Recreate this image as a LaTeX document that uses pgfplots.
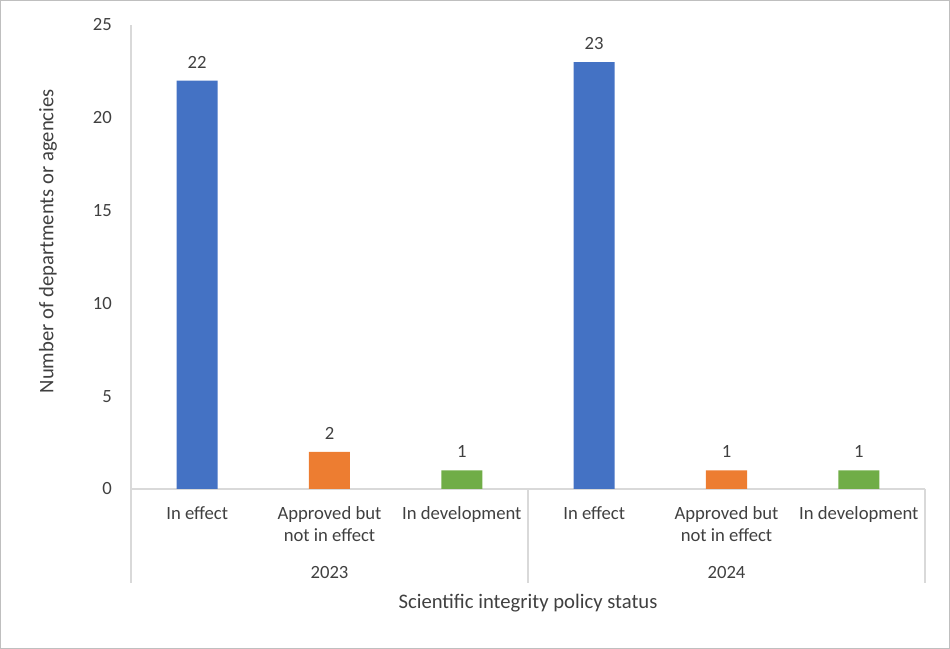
\documentclass[border=0pt]{standalone}
\usepackage{pgfplots}
\pgfplotsset{compat=1.18}
\usepackage{fontspec}
\setmainfont{Carlito}
\definecolor{cblue}{HTML}{4472C4}
\definecolor{corange}{HTML}{ED7D31}
\definecolor{cgreen}{HTML}{70AD47}
\definecolor{ctext}{HTML}{404040}
\definecolor{cline}{HTML}{D9D9D9}
\definecolor{cframe}{HTML}{BFBFBF}
\begin{document}
\fontsize{14}{16.5}\selectfont
\begin{tikzpicture}[x=0.75pt,y=0.75pt]
\useasboundingbox (-131,-160) rectangle (819,489);
\draw[cframe, line width=0.9pt] (-130.4,-159.4) rectangle (818.4,488.4);
\begin{axis}[
  at={(0,0)}, anchor=south west,
  scale only axis,
  width=595.5pt, height=348pt,
  xmin=-0.5, xmax=5.5,
  ymin=0, ymax=25,
  ytick={0,5,...,25},
  xtick={0,...,5},
  xticklabels={In effect,{Approved but\\not in effect},In development,In effect,{Approved but\\not in effect},In development},
  axis x line*=bottom,
  axis y line*=left,
  axis line style={cline, line width=0.9pt},
  major tick length=0pt,
  tick style={draw=none},
  ticklabel style={text=ctext, font=\fontsize{14}{16.5}\selectfont},
  xticklabel style={align=center, anchor=north, yshift=-8.5pt},
  yticklabel style={anchor=east, xshift=-9.5pt},
  /pgf/number format/assume math mode=true,
  ybar, bar width=30.75pt,
  every axis plot/.append style={draw=none, bar shift=0pt},
  nodes near coords,
  nodes near coords style={text=ctext, font=\fontsize{14}{16.5}\selectfont, anchor=south, yshift=4.5pt},
  xlabel={Scientific integrity policy status},
  xlabel style={at={(axis description cs:0.5,0)}, anchor=center, yshift=-85.5pt, text=ctext, font=\fontsize{15.5}{18}\selectfont},
  ylabel={Number of departments or agencies},
  ylabel style={at={(axis description cs:-0.1045,0.534)}, anchor=center, text=ctext, font=\fontsize{15.5}{18}\selectfont},
  clip=false,
]
\addplot[fill=cblue] coordinates {(0,22) (3,23)};
\addplot[fill=corange] coordinates {(1,2) (4,1)};
\addplot[fill=cgreen] coordinates {(2,1) (5,1)};
\draw[cline, line width=0.9pt] (axis cs:-0.5,0) -- ++(0pt,-70.5pt);
\draw[cline, line width=0.9pt] (axis cs:2.5,0) -- ++(0pt,-70.5pt);
\draw[cline, line width=0.9pt] (axis cs:5.5,0) -- ++(0pt,-70.5pt);
\node[text=ctext, anchor=center] at (axis cs:1,0) [yshift=-63pt] {2023};
\node[text=ctext, anchor=center] at (axis cs:4,0) [yshift=-63pt] {2024};
\end{axis}
\end{tikzpicture}
\end{document}
